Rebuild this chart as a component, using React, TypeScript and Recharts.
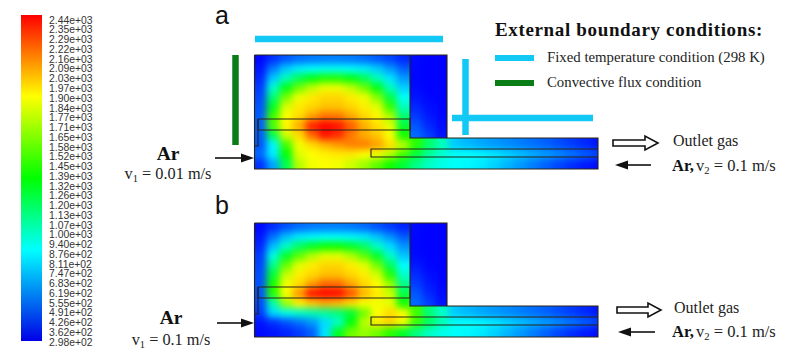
import React from "react"
import { ComposedChart, Scatter, XAxis, YAxis, ReferenceLine } from "recharts"

const W = 800
const H = 353

// colour bar labels, top to bottom, as printed
const colorbarLabels = [
  "2.44e+03", "2.35e+03", "2.29e+03", "2.22e+03", "2.16e+03", "2.09e+03", "2.03e+03",
  "1.97e+03", "1.90e+03", "1.84e+03", "1.77e+03", "1.71e+03", "1.65e+03", "1.58e+03",
  "1.52e+03", "1.45e+03", "1.39e+03", "1.32e+03", "1.26e+03", "1.20e+03", "1.13e+03",
  "1.07e+03", "1.00e+03", "9.40e+02", "8.76e+02", "8.11e+02", "7.47e+02", "6.83e+02",
  "6.19e+02", "5.55e+02", "4.91e+02", "4.26e+02", "3.62e+02", "2.98e+02",
]
const colorbarTicks = colorbarLabels.map((_, i) => i)

// temperature (K), gas + outlet region
const gasA = [
  [310, 400, 480, 530, 550, 560, 560, 550, 530, 490, 440, 380],
  [340, 560, 720, 800, 830, 850, 850, 830, 800, 730, 620, 500],
  [380, 720, 980, 1200, 1340, 1430, 1430, 1340, 1200, 980, 780, 620],
  [420, 930, 1320, 1600, 1770, 1870, 1870, 1770, 1600, 1320, 980, 730],
  [450, 1130, 1620, 1870, 1950, 1990, 1990, 1940, 1870, 1650, 1230, 850],
  [470, 1300, 1820, 1950, 1990, 2030, 2030, 1990, 1940, 1840, 1480, 970],
  [490, 1500, 1900, 1980, 2100, 2200, 2190, 2090, 1990, 1920, 1730, 1130],
  [490, 1540, 1920, 2080, 2380, 2440, 2400, 2250, 2080, 1970, 1840, 1250],
  [490, 1200, 1800, 1980, 2220, 2400, 2340, 2180, 2080, 2020, 1890, 1400],
  [470, 820, 1500, 1880, 1980, 2060, 2120, 2170, 2180, 2110, 1970, 1770, 1450, 1150, 980, 720, 680, 650, 620, 590, 560, 530, 500, 460, 420, 380, 340],
  [520, 800, 1350, 1840, 1900, 1930, 1950, 1950, 1900, 1880, 1750, 1500, 1250, 1050, 930, 860, 840, 820, 790, 750, 710, 670, 630, 590, 550, 500, 450],
  [400, 640, 1200, 1750, 1880, 1900, 1880, 1800, 1700, 1560, 1400, 1250, 1080, 950, 880, 840, 820, 790, 740, 680, 620, 560, 500, 440, 390, 350, 320],
]

// same for panel b
const gasB = [
  [310, 390, 470, 520, 550, 560, 560, 550, 520, 470, 420, 370],
  [340, 540, 700, 790, 820, 840, 840, 820, 790, 710, 600, 490],
  [380, 700, 950, 1170, 1300, 1390, 1390, 1300, 1170, 950, 760, 610],
  [420, 900, 1280, 1560, 1740, 1850, 1850, 1740, 1560, 1280, 950, 710],
  [440, 1090, 1580, 1850, 1940, 1990, 1990, 1940, 1850, 1610, 1190, 830],
  [460, 1260, 1780, 1940, 1990, 2040, 2040, 1990, 1940, 1810, 1440, 940],
  [470, 1420, 1880, 1980, 2120, 2230, 2220, 2100, 1990, 1910, 1690, 1090],
  [470, 1450, 1890, 2130, 2410, 2440, 2430, 2270, 2060, 1950, 1790, 1210],
  [450, 1000, 1690, 1930, 2010, 2070, 2040, 1970, 1890, 1880, 1850, 1390],
  [420, 760, 880, 950, 1000, 1050, 1120, 1250, 1600, 1900, 1980, 1900, 1500, 1120, 950, 720, 680, 650, 620, 590, 560, 530, 500, 460, 420, 380, 340],
  [340, 400, 470, 540, 620, 760, 950, 1350, 1750, 1950, 2000, 1880, 1500, 1180, 1000, 860, 840, 820, 790, 750, 710, 670, 630, 590, 550, 500, 450],
  [320, 340, 370, 420, 500, 780, 1300, 1600, 1680, 1600, 1450, 1280, 1100, 960, 880, 840, 820, 790, 740, 680, 620, 560, 500, 440, 390, 350, 320],
]

// solid block right of the gas chamber
const solidA = [
  [320, 300, 300], [310, 300, 300], [310, 300, 300], [320, 300, 300],
  [340, 310, 300], [380, 330, 305], [420, 350, 310], [480, 380, 320], [520, 430, 340],
]
const solidB = [
  [320, 300, 300], [310, 300, 300], [310, 300, 300], [320, 300, 300],
  [350, 310, 300], [390, 330, 305], [430, 350, 310], [480, 380, 320], [520, 430, 340],
]

// outline polylines, panel top is shifted by offset in outlineOf()
const wallOutline = [[254.5, 55], [447, 55], [447, 138], [598, 138], [598, 169], [254.5, 169], [254.5, 55]]
const solidOutline = [[410, 55], [410, 138], [447, 138]]
const electrodeOutline = [[258, 119], [410, 119], [410, 130], [258, 130], [258, 119]]
const pipeOutline = [[258, 119], [258, 146], [254.5, 146]]
const tubeOutline = [[598, 149], [371, 149], [371, 157], [598, 157]]

const colorStops = [
  { t: 298, c: [0, 0, 255] },
  { t: 834, c: [0, 255, 255] },
  { t: 1369, c: [0, 255, 0] },
  { t: 1905, c: [255, 255, 0] },
  { t: 2440, c: [255, 0, 0] },
]

function tempColor(t: number) {
  for (let i = 1; i < colorStops.length; i++) {
    if (t <= colorStops[i].t) {
      const a = colorStops[i - 1]
      const b = colorStops[i]
      const f = Math.max(0, (t - a.t) / (b.t - a.t))
      const rgb = a.c.map((v, k) => Math.round(v + (b.c[k] - v) * f))
      return `rgb(${rgb.join(",")})`
    }
  }
  return "rgb(255,0,0)"
}

const CELL_W = 13
const CELL_H = 9.5
const GRID_X = 254
const BLEED = 14

function toCells(rows: number[][], top: number, firstCol = 0) {
  const cells: any[] = []
  rows.forEach((row, r) => {
    row.forEach((t, c) => {
      cells.push({
        x: GRID_X + (firstCol + c + 0.5) * CELL_W,
        y: top + (r + 0.5) * CELL_H,
        t,
        // edge cells grow outward so the blur does not fade at the clip
        l: c === 0 ? BLEED : 0,
        r: c === row.length - 1 ? BLEED : 0,
        u: r === 0 || rows[r - 1][c] === undefined ? BLEED : 0,
        d: r === rows.length - 1 || rows[r + 1][c] === undefined ? BLEED : 0,
      })
    })
  })
  return cells
}

const HeatCell = (props: any) => {
  const { cx, cy, payload: p } = props
  return (
    <rect
      x={cx - CELL_W / 2 - p.l - 0.5}
      y={cy - CELL_H / 2 - p.u - 0.5}
      width={CELL_W + p.l + p.r + 1}
      height={CELL_H + p.u + p.d + 1}
      fill={tempColor(p.t)}
    />
  )
}

const outlineOf = (pts: number[][], dy: number) => pts.map(([x, y]) => ({ x, y: y + dy }))
const NoDot = () => <g />

const PANEL_B = 168

const serif = "'Liberation Serif', serif"
const sans = "'Liberation Sans', Arial, sans-serif"

function Speed({ x, y, sub, rest, anchor, size = 15 }: any) {
  return (
    <text x={x} y={y} fontFamily={serif} fontSize={size} fill="#222" textAnchor={anchor}>
      v<tspan fontSize={size * 0.65} dy={3}>{sub}</tspan>
      <tspan dy={-3}>{rest}</tspan>
    </text>
  )
}

function Arrow({ x1, x2, y }: any) {
  const dir = x2 > x1 ? 1 : -1
  return (
    <g>
      <line x1={x1} x2={x2 - dir * 10} y1={y} y2={y} stroke="#111" strokeWidth={1.6} />
      <polygon points={`${x2},${y} ${x2 - dir * 13},${y - 4.5} ${x2 - dir * 13},${y + 4.5}`} fill="#111" />
    </g>
  )
}

function HollowArrow({ x1, x2, y }: any) {
  const neck = x2 - 13
  return (
    <polygon
      points={`${x1},${y - 3} ${neck},${y - 3} ${neck},${y - 7} ${x2},${y} ${neck},${y + 7} ${neck},${y + 3} ${x1},${y + 3}`}
      fill="#fff"
      stroke="#111"
      strokeWidth={1.6}
    />
  )
}

const CYAN = "#12c8f5"
const GREEN = "#0a7d16"

export default function App() {
  const outline = { stroke: "#2a2418", strokeWidth: 1.1 }
  const outlines = [wallOutline, solidOutline, electrodeOutline, pipeOutline, tubeOutline]
  return (
    <div style={{ position: "absolute", left: 0, top: 0, width: W, height: H, background: "#fff" }}>
      <style>{`
        .heat-gas-a { filter: url(#heatBlur); clip-path: url(#clipGasA); }
        .heat-gas-b { filter: url(#heatBlur); clip-path: url(#clipGasB); }
        .heat-solid-a { filter: url(#heatBlur); clip-path: url(#clipSolidA); }
        .heat-solid-b { filter: url(#heatBlur); clip-path: url(#clipSolidB); }
      `}</style>
      <ComposedChart width={W} height={H} margin={{ top: 0, right: 0, bottom: 0, left: 0 }}>
        <defs>
          <filter id="heatBlur" filterUnits="userSpaceOnUse" x="0" y="0" width={W} height={H} colorInterpolationFilters="sRGB">
            <feGaussianBlur stdDeviation="3.9" />
          </filter>
          <linearGradient id="barGradient" x1="0" y1="0" x2="0" y2="1">
            <stop offset="0" stopColor="#ff0000" />
            <stop offset="0.25" stopColor="#ffff00" />
            <stop offset="0.5" stopColor="#00ff00" />
            <stop offset="0.72" stopColor="#00ffff" />
            <stop offset="1" stopColor="#0000e6" />
          </linearGradient>
          {[0, PANEL_B].map((dy, i) => (
            <React.Fragment key={dy}>
              <clipPath id={i ? "clipGasB" : "clipGasA"}>
                <polygon points={`254,${55 + dy} 410,${55 + dy} 410,${138 + dy} 598,${138 + dy} 598,${169 + dy} 254,${169 + dy}`} />
              </clipPath>
              <clipPath id={i ? "clipSolidB" : "clipSolidA"}>
                <rect x={410} y={55 + dy} width={37} height={83} />
              </clipPath>
            </React.Fragment>
          ))}
        </defs>
        <XAxis type="number" dataKey="x" domain={[0, W]} hide allowDataOverflow />
        <YAxis type="number" dataKey="y" domain={[0, H]} reversed hide allowDataOverflow />
        <YAxis
          yAxisId="bar"
          type="number"
          dataKey="i"
          domain={[0, colorbarLabels.length - 1]}
          reversed
          mirror
          padding={{ top: 20, bottom: 11 }}
          ticks={colorbarTicks}
          interval={0}
          axisLine={false}
          tickLine={false}
          tickMargin={43}
          tickFormatter={(i: number) => colorbarLabels[i]}
          tick={{ fontSize: 10.4, fontFamily: sans, fill: "#333" }}
        />

        <rect x={21} y={15} width={21} height={326} fill="url(#barGradient)" />
        <Scatter yAxisId="bar" dataKey="i" data={colorbarTicks.map((i) => ({ x: 45, i }))} shape={NoDot} isAnimationActive={false} />

        <Scatter className="heat-gas-a" data={toCells(gasA, 55)} shape={HeatCell} isAnimationActive={false} />
        <Scatter className="heat-solid-a" data={toCells(solidA, 55, 12)} shape={HeatCell} isAnimationActive={false} />
        <Scatter className="heat-gas-b" data={toCells(gasB, 55 + PANEL_B)} shape={HeatCell} isAnimationActive={false} />
        <Scatter className="heat-solid-b" data={toCells(solidB, 55 + PANEL_B, 12)} shape={HeatCell} isAnimationActive={false} />

        {[0, PANEL_B].flatMap((dy) =>
          outlines.map((pts, i) => (
            <Scatter
              key={`${dy}-${i}`}
              data={outlineOf(pts, dy)}
              line={outline}
              lineType="joint"
              shape={NoDot}
              isAnimationActive={false}
            />
          ))
        )}

        <ReferenceLine segment={[{ x: 255, y: 39 }, { x: 443, y: 39 }]} stroke={CYAN} strokeWidth={6.5} />
        <ReferenceLine segment={[{ x: 235.5, y: 55 }, { x: 235.5, y: 145 }]} stroke={GREEN} strokeWidth={6.5} />
        <ReferenceLine segment={[{ x: 465.5, y: 59 }, { x: 465.5, y: 135 }]} stroke={CYAN} strokeWidth={6.5} />
        <ReferenceLine segment={[{ x: 452, y: 118 }, { x: 593, y: 118 }]} stroke={CYAN} strokeWidth={6.5} />
        <ReferenceLine segment={[{ x: 495, y: 58 }, { x: 534, y: 58 }]} stroke={CYAN} strokeWidth={6} />
        <ReferenceLine segment={[{ x: 495, y: 83 }, { x: 534, y: 83 }]} stroke={GREEN} strokeWidth={6} />

        <text x={215} y={24} fontFamily={sans} fontSize={25} fill="#111">a</text>
        <text x={215} y={214} fontFamily={sans} fontSize={25} fill="#111">b</text>

        <text x={495} y={36} fontFamily={serif} fontWeight="bold" fontSize={19} letterSpacing={0.65} fill="#111">External boundary conditions:</text>
        <text x={547} y={62} fontFamily={serif} fontSize={14.8} fill="#222">Fixed temperature condition (298 K)</text>
        <text x={547} y={87} fontFamily={serif} fontSize={14.8} fill="#222">Convective flux condition</text>

        <HollowArrow x1={613} x2={658} y={143} />
        <text x={673} y={146} fontFamily={serif} fontSize={16} fill="#222">Outlet gas</text>
        <Arrow x1={651} x2={615} y={165} />
        <text x={672} y={171} fontFamily={serif} fontWeight="bold" fontSize={16.5} fill="#111">Ar,</text>
        <Speed x={696} y={171} sub="2" rest=" = 0.1 m/s" size={16.5} />

        <HollowArrow x1={617} x2={661} y={310} />
        <text x={674} y={313} fontFamily={serif} fontSize={16} fill="#222">Outlet gas</text>
        <Arrow x1={655} x2={618} y={332} />
        <text x={672} y={337} fontFamily={serif} fontWeight="bold" fontSize={16.5} fill="#111">Ar,</text>
        <Speed x={696} y={337} sub="2" rest=" = 0.1 m/s" size={16.5} />

        <text x={168} y={160} textAnchor="middle" fontFamily={serif} fontWeight="bold" fontSize={19.5} fill="#111">Ar</text>
        <Speed x={168} y={179} sub="1" rest=" = 0.01 m/s" anchor="middle" size={16.3} />
        <Arrow x1={215} x2={254} y={158} />

        <text x={171} y={324} textAnchor="middle" fontFamily={serif} fontWeight="bold" fontSize={19.5} fill="#111">Ar</text>
        <Speed x={171} y={345} sub="1" rest=" = 0.1 m/s" anchor="middle" size={16.3} />
        <Arrow x1={217} x2={254} y={323} />
      </ComposedChart>
    </div>
  )
}
